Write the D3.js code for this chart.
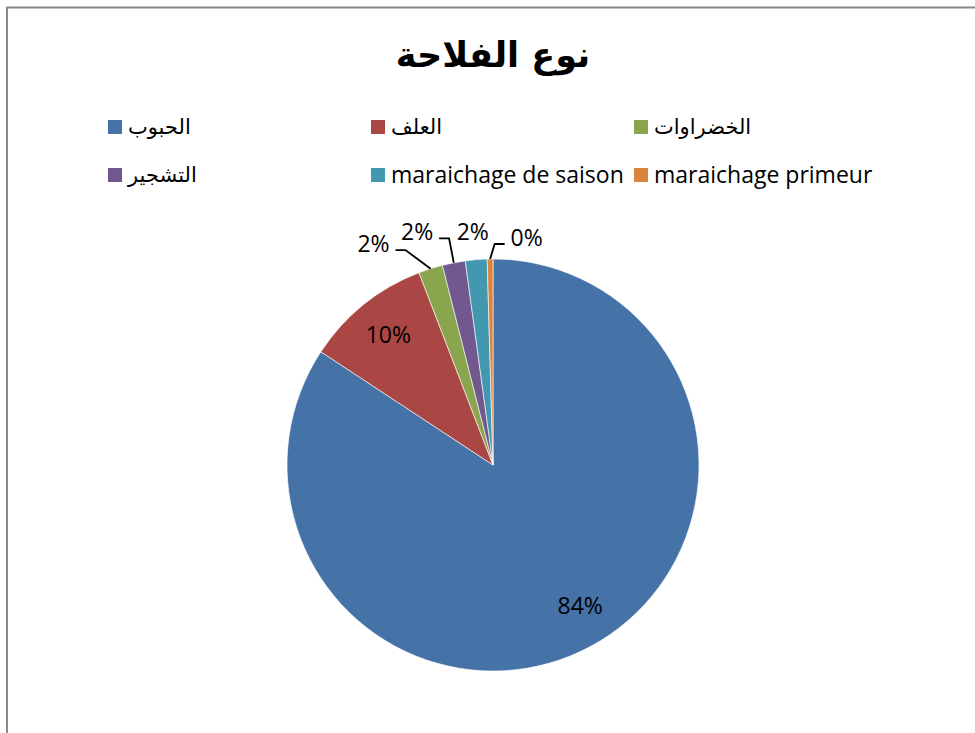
<!DOCTYPE html>
<html>
<head>
<meta charset="utf-8">
<script src="https://d3js.org/d3.v7.min.js"></script>
<style>
    body { margin: 0; background: #fff; }
    .label { font-family: "Open Sans", "DejaVu Sans", sans-serif; font-size: 23px; fill: #000; }
    .legend text { font-family: "Open Sans", "DejaVu Sans", sans-serif; font-size: 22px; fill: #000; }
    .leader { fill: none; stroke: #000; stroke-width: 1.8px; }
</style>
</head>
<body>
<svg id="chart" width="975" height="733"></svg>
<script>
    // data
    const categories = ["الحبوب", "العلف", "الخضراوات", "التشجير", "maraichage de saison", "maraichage primeur"];
    const values = [84.3, 9.9, 1.9, 1.8, 1.7, 0.45];
    const colors = ["#4572A7", "#AA4643", "#89A54E", "#71588F", "#4198AF", "#DB843D"];
    const title = "نوع الفلاحة";

    const svg = d3.select("#chart");

    // chart area border (only top and left show in the frame)
    svg.append("rect")
        .attr("x", 7).attr("y", 7.5)
        .attr("width", 990).attr("height", 760)
        .attr("fill", "none").attr("stroke", "#8a8a8a").attr("stroke-width", 2);

    svg.append("text")
        .attr("x", 493).attr("y", 67)
        .attr("text-anchor", "middle")
        .style("font-family", "'DejaVu Sans', sans-serif")
        .style("font-weight", "bold")
        .style("font-size", "35px")
        .text(title);

    // legend, 3 columns x 2 rows
    const legend = svg.append("g").attr("class", "legend");
    const colX = d3.scalePoint().domain([0, 1, 2]).range([108, 634]);
    const rowY = d3.scalePoint().domain([0, 1]).range([127, 175]);
    const items = legend.selectAll("g").data(categories).join("g")
        .attr("transform", (d, i) => `translate(${colX(i % 3)},${rowY(Math.floor(i / 3))})`);
    items.append("rect")
        .attr("x", 0).attr("y", -7).attr("width", 14).attr("height", 14)
        .attr("fill", (d, i) => colors[i]);
    items.append("text")
        .attr("x", 20).attr("y", 0).attr("dy", "0.35em")
        .style("font-size", d => /[a-z]/.test(d) ? "23px" : "21px")
        .text(d => d);

    // pie
    const cx = 493, cy = 465, r = 206;
    const pie = d3.pie().sort(null).value(d => d);
    const arcs = pie(values);
    const arc = d3.arc().innerRadius(0).outerRadius(r);
    const total = d3.sum(values);
    const fmt = d3.format(".0%");

    const g = svg.append("g").attr("transform", `translate(${cx},${cy})`);
    g.selectAll("path.slice").data(arcs).join("path")
        .attr("class", "slice")
        .attr("d", arc)
        .attr("fill", (d, i) => colors[i])
        .attr("stroke", "#fff").attr("stroke-width", 0.6);

    // inside labels for the big slices
    const inArc = d3.arc().innerRadius(r * 0.81).outerRadius(r * 0.81);
    // outside labels: radial spot plus a nudge to keep them apart (like Excel's best fit)
    const nudge = [[8, -6], [0, 0], [-48, 4], [-31, -1], [-1, 2], [37, 9]];
    const outside = [false, false, true, true, true, true];
    const leader = [false, false, true, true, false, true];

    arcs.forEach((d, i) => {
        const pct = fmt(d.value / total);
        const mid = (d.startAngle + d.endAngle) / 2;
        if (!outside[i]) {
            const [x, y] = inArc.centroid(d);
            g.append("text").attr("class", "label")
                .attr("x", x + nudge[i][0]).attr("y", y + nudge[i][1]).attr("dy", "0.35em")
                .attr("text-anchor", "middle").text(pct);
            return;
        }
        const lr = r + 30;
        const lx = Math.sin(mid) * lr + nudge[i][0];
        const ly = -Math.cos(mid) * lr + nudge[i][1];
        g.append("text").attr("class", "label")
            .attr("x", lx).attr("y", ly).attr("dy", "0.35em")
            .attr("text-anchor", "middle").text(pct);
        if (leader[i]) {
            const px = Math.sin(mid) * r, py = -Math.cos(mid) * r;
            const side = px > lx ? 1 : -1;
            const ex = lx + side * 22, ey = ly + 6;
            g.append("path").attr("class", "leader")
                .attr("d", d3.line()([[ex, ey], [ex + side * 10, ey], [px, py]]));
        }
    });
</script>
</body>
</html>
